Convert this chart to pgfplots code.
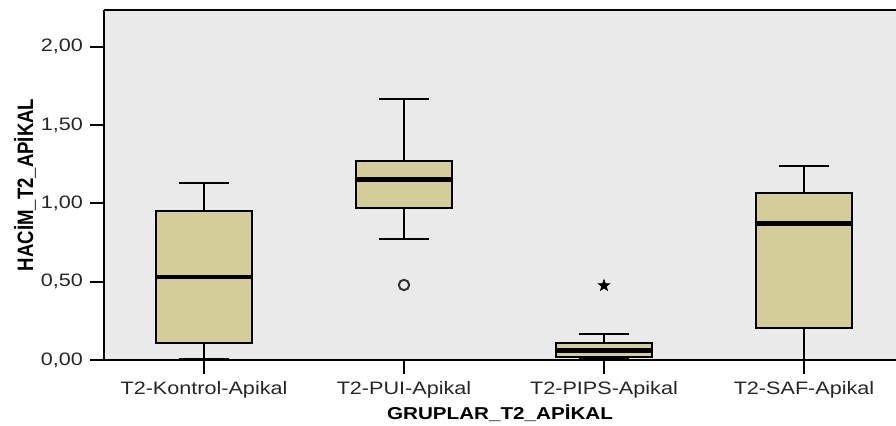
\documentclass[border=0pt]{standalone}
\usepackage{pgfplots}
\pgfplotsset{compat=1.18}
\usepgfplotslibrary{statistics}
\usepackage{graphicx}
\usepackage{fontspec}
\setmainfont{Liberation Sans}[FakeStretch=1.2, BoldFeatures={FakeStretch=1.2}]
\newfontfamily\plainsans{Liberation Sans}
\definecolor{panel}{RGB}{234,234,234}
\definecolor{boxtan}{RGB}{211,206,153}

% filled five-pointed star for extreme values
\pgfdeclareplotmark{fstar}{%
  \pgfpathmoveto{\pgfpointpolar{90}{\pgfplotmarksize}}%
  \pgfpathlineto{\pgfpointpolar{126}{0.42\pgfplotmarksize}}%
  \pgfpathlineto{\pgfpointpolar{162}{\pgfplotmarksize}}%
  \pgfpathlineto{\pgfpointpolar{198}{0.42\pgfplotmarksize}}%
  \pgfpathlineto{\pgfpointpolar{234}{\pgfplotmarksize}}%
  \pgfpathlineto{\pgfpointpolar{270}{0.42\pgfplotmarksize}}%
  \pgfpathlineto{\pgfpointpolar{306}{\pgfplotmarksize}}%
  \pgfpathlineto{\pgfpointpolar{342}{0.42\pgfplotmarksize}}%
  \pgfpathlineto{\pgfpointpolar{18}{\pgfplotmarksize}}%
  \pgfpathlineto{\pgfpointpolar{54}{0.42\pgfplotmarksize}}%
  \pgfpathclose\pgfusepathqfillstroke}

\begin{document}
\begin{tikzpicture}
\useasboundingbox (0,0) rectangle (448pt,213pt);
\begin{axis}[
  at={(52pt,33pt)}, anchor=south west,
  scale only axis, width=396pt, height=175pt,
  xmin=-0.5, xmax=3.46, ymin=0, ymax=2.235,
  axis x line=box, axis y line=left,
  axis line style={-, line width=1pt, black},
  axis background/.style={fill=panel},
  tick align=outside,
  xtick pos=bottom, ytick pos=left,
  major tick length=7pt,
  every tick/.style={black, line width=1pt},
  xtick={0,1,2,3},
  xticklabels={T2-Kontrol-Apikal,T2-PUI-Apikal,T2-PIPS-Apikal,T2-SAF-Apikal},
  ytick={0,0.5,1,1.5,2},
  yticklabel style={/pgf/number format/.cd, fixed, fixed zerofill, precision=2, use comma, assume math mode=true},
  tick label style={font=\fontsize{9}{10}\selectfont, text=black!85},
  every axis x label/.style={at={(axis description cs:0.5,-0.1514)}, anchor=center, font=\fontsize{8.6}{10}\selectfont\bfseries},
  every axis y label/.style={at={(axis description cs:-0.0997,0.5)}, rotate=90, anchor=center, font=\fontsize{9.3}{10}\plainsans\bfseries},
  xlabel={GRUPLAR\_T2\_APİKAL},
  ylabel={\scalebox{1}[1.2]{HACİM\_T2\_APİKAL}},
  boxplot/draw direction=y,
  boxplot/every median/.style={line width=2.3pt},
  boxstyle/.style={draw=black, fill=boxtan, line width=0.9pt, solid},
]
\addplot[boxstyle, boxplot prepared={draw position=0,
  lower whisker=0.005, lower quartile=0.108, median=0.53,
  upper quartile=0.949, upper whisker=1.128,
  box extend=0.48, whisker extend=0.25}] coordinates {};
\addplot[boxstyle, mark=o, mark size=2.6pt, mark options={draw=black!80, line width=1pt},
  boxplot prepared={draw position=1,
  lower whisker=0.771, lower quartile=0.971, median=1.151,
  upper quartile=1.271, upper whisker=1.669,
  box extend=0.48, whisker extend=0.25}] coordinates {(0,0.479)};
\addplot[boxstyle, mark=fstar, mark size=3pt, mark options={draw=black, fill=black, line width=0.3pt},
  boxplot prepared={draw position=2,
  lower whisker=0.01, lower quartile=0.021, median=0.06,
  upper quartile=0.106, upper whisker=0.164,
  box extend=0.48, whisker extend=0.25}] coordinates {(0,0.475)};
\addplot[boxstyle, boxplot prepared={draw position=3,
  lower whisker=0.0, lower quartile=0.206, median=0.873,
  upper quartile=1.068, upper whisker=1.237,
  box extend=0.48, whisker extend=0.25}] coordinates {};
\end{axis}
\end{tikzpicture}
\end{document}
